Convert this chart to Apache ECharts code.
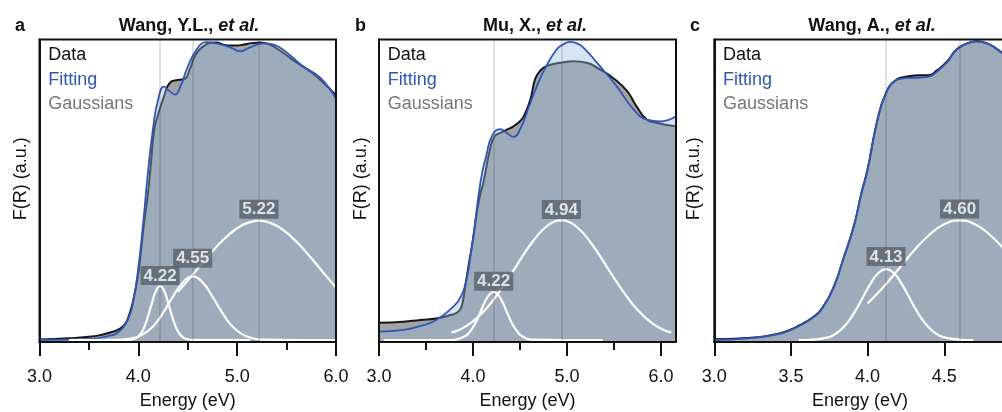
<!DOCTYPE html>
<html>
<head>
<meta charset="utf-8">
<script src="https://cdn.jsdelivr.net/npm/echarts@6/dist/echarts.min.js"></script>
<style>html,body{margin:0;padding:0;background:#fff}#chart{width:1002px;height:412px}</style>
</head>
<body>
<div id="chart"></div>
<script>
// ---------- Panel a : Wang, Y.L., et al. ----------
const aDataE = [3.00,3.30,3.50,3.62,3.70,3.79,3.85,3.89,3.95,4.00,4.05,4.10,4.13,4.16,4.20,4.26,4.32,4.40,4.47,4.52,4.58,4.66,4.73,4.79,4.86,4.93,5.00,5.06,5.15,5.23,5.33,5.46,5.60,5.74,5.87,6.00];
const aDataV = [0.008,0.012,0.017,0.023,0.030,0.040,0.053,0.073,0.139,0.228,0.371,0.500,0.600,0.700,0.752,0.812,0.857,0.866,0.870,0.901,0.950,0.978,0.989,0.990,0.983,0.980,0.980,0.983,0.988,0.990,0.983,0.957,0.924,0.894,0.858,0.815];
const aFitE = [3.00,3.50,3.70,3.80,3.90,3.95,4.00,4.05,4.10,4.15,4.20,4.26,4.31,4.37,4.43,4.49,4.59,4.69,4.79,4.93,5.03,5.13,5.27,5.37,5.50,5.67,5.84,6.00];
const aFitV = [0.007,0.010,0.020,0.033,0.079,0.139,0.245,0.397,0.570,0.709,0.801,0.844,0.831,0.818,0.848,0.901,0.967,0.991,0.987,0.974,0.961,0.974,0.987,0.983,0.957,0.911,0.874,0.805];
const aG1E = [3.30,3.90,3.97,4.02,4.06,4.10,4.14,4.18,4.22,4.26,4.30,4.34,4.38,4.42,4.47,4.54,5.13];
const aG1V = [0.006,0.007,0.012,0.026,0.049,0.087,0.132,0.170,0.185,0.170,0.132,0.087,0.049,0.026,0.012,0.007,0.006];
const aG2E = [3.70,3.85,3.95,4.05,4.15,4.25,4.35,4.45,4.55,4.65,4.75,4.85,4.95,5.05,5.15,5.25,6.00];
const aG2V = [0.006,0.008,0.013,0.026,0.052,0.096,0.150,0.197,0.216,0.197,0.150,0.096,0.052,0.026,0.013,0.008,0.006];
const aG3E = [4.40,4.50,4.60,4.70,4.80,4.90,5.00,5.10,5.22,5.34,5.44,5.54,5.64,5.74,5.84,5.94,6.00];
const aG3V = [0.166,0.203,0.242,0.281,0.318,0.350,0.376,0.393,0.401,0.393,0.376,0.350,0.318,0.281,0.242,0.203,0.180];
const aCenters = [4.22, 4.55, 5.22];
const aPeaks = [0.185, 0.216, 0.401];
const aPeakLabels = ['4.22', '4.55', '5.22'];
const aTicks = [3, 4, 5, 6];
const aMinorTicks = [3.5, 4.5, 5.5];

// ---------- Panel b : Mu, X., et al. ----------
const bDataE = [3.00,3.26,3.44,3.61,3.76,3.84,3.88,3.92,3.96,4.00,4.04,4.08,4.11,4.18,4.23,4.29,4.36,4.43,4.50,4.54,4.61,4.66,4.71,4.78,4.93,5.07,5.21,5.35,5.49,5.64,5.74,5.85,5.96,6.16];
const bDataV = [0.064,0.067,0.073,0.078,0.089,0.099,0.119,0.189,0.265,0.338,0.427,0.493,0.526,0.636,0.680,0.691,0.702,0.713,0.730,0.746,0.801,0.868,0.895,0.912,0.923,0.928,0.923,0.901,0.873,0.829,0.779,0.735,0.724,0.713];
const bFitE = [3.00,3.26,3.44,3.61,3.79,3.87,3.93,3.98,4.02,4.06,4.10,4.14,4.20,4.29,4.36,4.43,4.50,4.61,4.71,4.78,4.89,4.96,5.03,5.10,5.17,5.35,5.53,5.71,5.85,5.99,6.16];
const bFitV = [0.034,0.040,0.053,0.073,0.117,0.149,0.205,0.298,0.387,0.487,0.563,0.614,0.680,0.704,0.691,0.678,0.702,0.790,0.868,0.912,0.967,0.984,0.992,0.988,0.975,0.912,0.845,0.768,0.735,0.729,0.746];
const bG1E = [3.05,3.75,3.82,3.92,3.97,4.02,4.07,4.12,4.17,4.22,4.27,4.32,4.37,4.42,4.47,4.52,4.62,5.38];
const bG1V = [0.006,0.006,0.008,0.020,0.035,0.059,0.092,0.128,0.155,0.166,0.155,0.128,0.092,0.059,0.035,0.020,0.008,0.006];
const bG2E = [3.77,3.84,3.94,4.04,4.14,4.24,4.34,4.44,4.54,4.64,4.74,4.84,4.94,5.04,5.14,5.24,5.34,5.44,5.54,5.64,5.74,5.84,5.94,6.04,6.11];
const bG2V = [0.032,0.038,0.055,0.079,0.110,0.149,0.193,0.241,0.290,0.334,0.370,0.394,0.402,0.394,0.370,0.334,0.290,0.241,0.193,0.149,0.110,0.079,0.055,0.038,0.032];
const bCenters = [4.22, 4.94];
const bPeaks = [0.166, 0.402];
const bPeakLabels = ['4.22', '4.94'];
const bTicks = [3, 4, 5, 6];
const bMinorTicks = [3.5, 4.5, 5.5];

// ---------- Panel c : Wang, A., et al. ----------
const cDataE = [3.00,3.21,3.43,3.54,3.65,3.71,3.78,3.84,3.91,3.96,4.00,4.06,4.12,4.19,4.25,4.34,4.40,4.45,4.52,4.58,4.65,4.71,4.78,4.84,4.90];
const cDataV = [0.009,0.013,0.029,0.051,0.084,0.117,0.183,0.272,0.382,0.492,0.570,0.724,0.823,0.868,0.877,0.882,0.882,0.897,0.928,0.967,0.987,0.994,0.987,0.969,0.944];
const cFitE = [3.00,3.21,3.43,3.54,3.65,3.71,3.78,3.84,3.91,3.96,4.00,4.06,4.12,4.19,4.25,4.34,4.40,4.45,4.52,4.58,4.65,4.71,4.78,4.84,4.90];
const cFitV = [0.007,0.012,0.028,0.050,0.083,0.116,0.183,0.273,0.384,0.494,0.572,0.725,0.823,0.866,0.872,0.874,0.877,0.893,0.926,0.966,0.987,0.994,0.987,0.970,0.946];
const cG1E = [3.55,3.62,3.72,3.77,3.82,3.87,3.92,3.97,4.02,4.07,4.12,4.17,4.22,4.27,4.32,4.37,4.42,4.47,4.52,4.62,4.69];
const cG1V = [0.006,0.007,0.013,0.021,0.038,0.065,0.103,0.149,0.194,0.228,0.241,0.228,0.194,0.149,0.103,0.065,0.038,0.021,0.013,0.007,0.006];
const cG2E = [4.00,4.10,4.20,4.30,4.40,4.50,4.60,4.70,4.80,4.90];
const cG2V = [0.127,0.180,0.240,0.301,0.353,0.389,0.402,0.389,0.353,0.301];
const cCenters = [4.12, 4.60];
const cPeaks = [0.241, 0.402];
const cPeakLabels = ['4.13', '4.60'];
const cTicks = [3, 3.5, 4, 4.5];

// ---------- styling / layout ----------
const FONT = 'Liberation Sans, Arial, Helvetica, sans-serif';
const INK = '#111';
const BLUE = '#2e55b8';
const pts = (xs, ys) => xs.map((x, i) => [x, ys[i]]);

const panels = [
  { letter: 'a', author: 'Wang, Y.L., ', left: 39.5, width: 296.5, max: 6.0, titleX: 189, letterX: 15,
    dataE: aDataE, dataV: aDataV, fitE: aFitE, fitV: aFitV,
    gauss: [[aG1E, aG1V], [aG2E, aG2V], [aG3E, aG3V]],
    centers: aCenters, peaks: aPeaks, labels: aPeakLabels, labelGap: [1, 9, 2],
    ticks: aTicks, minor: aMinorTicks, yGap: 9 },
  { letter: 'b', author: 'Mu, X., ', left: 379, width: 297, max: 6.16, titleX: 535, letterX: 355,
    dataE: bDataE, dataV: bDataV, fitE: bFitE, fitV: bFitV,
    gauss: [[bG1E, bG1V], [bG2E, bG2V]],
    centers: bCenters, peaks: bPeaks, labels: bPeakLabels, labelGap: [1, 1.5],
    ticks: bTicks, minor: bMinorTicks, yGap: 9 },
  { letter: 'c', author: 'Wang, A., ', left: 714.3, width: 291.3, max: 4.9, titleX: 872, letterX: 690,
    dataE: cDataE, dataV: cDataV, fitE: cFitE, fitV: cFitV,
    gauss: [[cG1E, cG1V], [cG2E, cG2V]],
    centers: cCenters, peaks: cPeaks, labels: cPeakLabels, labelGap: [3, 2],
    ticks: cTicks, minor: null, yGap: 11 }
];

const grid = [], xAxis = [], yAxis = [], series = [], title = [], legend = [];

panels.forEach((p, gi) => {
  grid.push({ left: p.left, top: 39.5, width: p.width, height: 302.5, show: true,
    outerBoundsMode: 'none', containLabel: false,
    borderColor: INK, borderWidth: 2, backgroundColor: 'transparent', z: 10 });

  const mainX = xAxis.length;
  xAxis.push({
    gridIndex: gi, type: 'value', min: 3, max: p.max, position: 'bottom',
    axisLine: { show: true, onZero: false, lineStyle: { color: INK, width: 2 } },
    axisTick: { show: true, length: 14, customValues: p.ticks, lineStyle: { color: INK, width: 2 } },
    axisLabel: { customValues: p.ticks, formatter: v => v.toFixed(1), margin: 26,
      fontSize: 18, color: INK, fontFamily: FONT },
    splitLine: { show: false },
    name: 'Energy (eV)', nameLocation: 'middle', nameGap: 50,
    nameTextStyle: { fontSize: 18, color: INK, fontFamily: FONT }
  });
  if (p.minor) {
    xAxis.push({
      gridIndex: gi, type: 'value', min: 3, max: p.max, position: 'bottom',
      axisLine: { show: false },
      axisTick: { show: true, length: 8, customValues: p.minor, lineStyle: { color: INK, width: 2 } },
      axisLabel: { show: false }, splitLine: { show: false }
    });
  }
  yAxis.push({
    gridIndex: gi, type: 'value', min: 0, max: 1,
    axisLine: { show: true, lineStyle: { color: INK, width: 2 } },
    axisTick: { show: false }, axisLabel: { show: false }, splitLine: { show: false },
    name: 'F(R) (a.u.)', nameLocation: 'middle', nameGap: p.yGap,
    nameTextStyle: { fontSize: 18, color: INK, fontFamily: FONT, padding: [0, 0, 0, 24] }
  });

  title.push({
    text: '{n|' + p.author + '}{i|et al.}', left: p.titleX, top: 15, textAlign: 'center', padding: 0,
    textStyle: { rich: {
      n: { fontFamily: FONT, fontSize: 18, fontWeight: 'bold', color: INK, lineHeight: 22 },
      i: { fontFamily: FONT, fontSize: 18, fontWeight: 'bold', fontStyle: 'italic', color: INK, lineHeight: 22 }
    } }
  });
  title.push({
    text: p.letter, left: p.letterX, top: 15, padding: 0,
    textStyle: { fontFamily: FONT, fontSize: 18, fontWeight: 'bold', color: INK, lineHeight: 22 }
  });

  legend.push({
    left: p.left + 3.8, top: 45, orient: 'vertical', icon: 'none', itemWidth: 0, itemHeight: 0,
    itemGap: 4.6, padding: 0, selectedMode: false,
    textStyle: { fontFamily: FONT, fontSize: 18, lineHeight: 20 },
    data: [
      { name: 'Data', textStyle: { color: INK } },
      { name: 'Fitting', textStyle: { color: BLUE } },
      { name: 'Gaussians', textStyle: { color: '#777' } }
    ]
  });

  const common = { xAxisIndex: mainX, yAxisIndex: gi, symbol: 'none', silent: true,
    emphasis: { disabled: true } };

  series.push(Object.assign({}, common, {
    type: 'line', name: 'Data', data: pts(p.dataE, p.dataV), smooth: 0.5, z: 1,
    lineStyle: { color: '#161616', width: 2 }, itemStyle: { color: '#161616' },
    areaStyle: { color: '#a3a3a3', opacity: 1 }
  }));
  series.push(Object.assign({}, common, {
    type: 'line', name: 'Fitting', data: pts(p.fitE, p.fitV), smooth: 0.5, z: 2,
    lineStyle: { color: BLUE, width: 1.8 }, itemStyle: { color: BLUE },
    areaStyle: { color: 'rgba(147,184,226,0.38)', opacity: 1 }
  }));
  series.push(Object.assign({}, common, {
    type: 'line', name: 'centers', data: [], z: 3,
    markLine: { silent: true, symbol: 'none', animation: false, label: { show: false },
      lineStyle: { color: 'rgba(70,70,70,0.22)', width: 1.5, type: 'solid' },
      data: p.centers.map(c => ({ xAxis: c })) }
  }));
  p.gauss.forEach(g => {
    series.push(Object.assign({}, common, {
      type: 'line', name: 'Gaussians', data: pts(g[0], g[1]), smooth: 0.5, z: 4,
      lineStyle: { color: '#ffffff', width: 2.2 }, itemStyle: { color: '#ffffff' }
    }));
  });
  series.push({
    type: 'scatter', name: 'peaks', xAxisIndex: mainX, yAxisIndex: gi, symbolSize: 0, z: 6, silent: true,
    emphasis: { disabled: true },
    data: p.centers.map((c, i) => ({ value: [c, p.peaks[i]], label: { distance: p.labelGap[i] } })),
    label: { show: true, position: 'top', formatter: prm => p.labels[prm.dataIndex],
      color: '#fff', fontFamily: FONT, fontSize: 17, fontWeight: 'bold', lineHeight: 18,
      backgroundColor: '#58626d', padding: [1, 3, 0, 3] }
  });
});

const chart = echarts.init(document.getElementById('chart'), null, { renderer: 'canvas' });
chart.setOption({ animation: false, backgroundColor: '#fff', title, legend, grid, xAxis, yAxis, series, tooltip: { show: false } });
</script>
</body>
</html>
